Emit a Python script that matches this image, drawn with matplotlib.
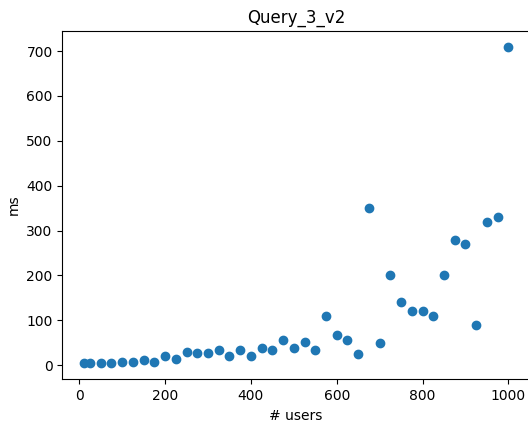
import matplotlib
matplotlib.use("Agg")
import matplotlib.pyplot as plt

users = [10, 25, 50, 75, 100, 125, 150, 175, 200, 225, 250, 275, 300, 325, 350,
         375, 400, 425, 450, 475, 500, 525, 550, 575, 600, 625, 650, 675, 700,
         725, 750, 775, 800, 825, 850, 875, 900, 925, 950, 975, 1000]
ms = [3.7, 3.7, 3.7, 3.7, 6.5, 8, 10.5, 8, 21, 14, 29, 27.5, 27.5, 34, 21,
      34, 21, 38, 33, 56, 38, 52, 33, 110, 67, 56, 25, 351, 50,
      200, 141, 120, 120, 110, 200, 279, 269, 90, 319, 330, 710]

fig = plt.figure(figsize=(5.28, 4.24), dpi=100)
ax = fig.add_axes([62.35 / 528, 44.7 / 424, 467.2 / 528, 348.6 / 424])
ax.scatter(users, ms)
ax.set_title("Query_3_v2")
ax.set_xlabel("# users")
ax.set_ylabel("ms")
fig.savefig("out.png", dpi=100)
